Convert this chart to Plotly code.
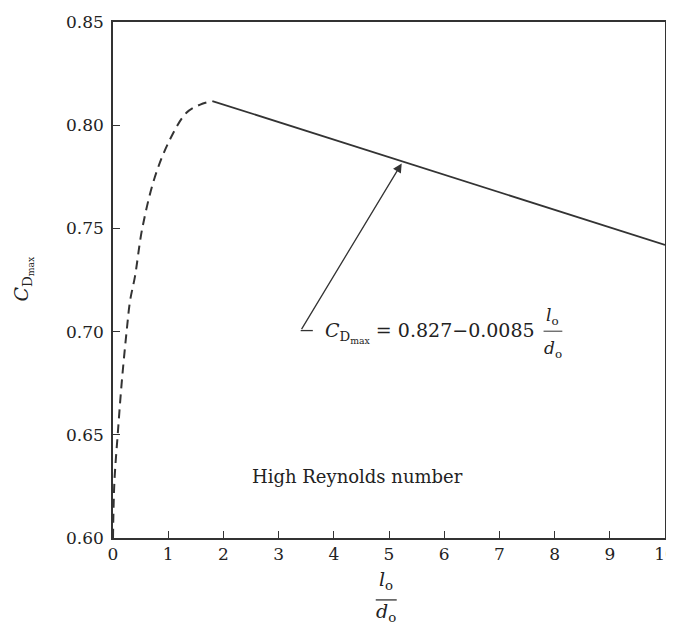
import plotly.graph_objects as go

# Dashed (low l/d) portion
dash_x = [0.0, 0.025, 0.085, 0.157, 0.25, 0.31, 0.40, 0.53, 0.76, 1.03, 1.33, 1.58, 1.80]
dash_y = [0.600, 0.627, 0.650, 0.675, 0.701, 0.715, 0.727, 0.750, 0.775, 0.793, 0.806, 0.810, 0.8117]

# Solid linear portion
solid_x = [1.80, 10.0]
solid_y = [0.8117, 0.742]

x_ticks = [0, 1, 2, 3, 4, 5, 6, 7, 8, 9, 10]
y_ticks = [0.60, 0.65, 0.70, 0.75, 0.80, 0.85]
y_tick_labels = ["0.60", "0.65", "0.70", "0.75", "0.80", "0.85"]

# Annotation anchor values
arrow_tail = (3.40, 0.7005)
arrow_head = (5.23, 0.7815)
label_text = "High Reynolds number"
label_pos = (4.43, 0.630)

FONT = "DejaVu Serif"
INK = "#333333"
TXT = "#222222"

fig = go.Figure()
fig.add_trace(go.Scatter(x=dash_x, y=dash_y, mode="lines",
                         line=dict(color=INK, width=2, dash="9px,6px"),
                         line_shape="spline", showlegend=False, hoverinfo="skip"))
fig.add_trace(go.Scatter(x=solid_x, y=solid_y, mode="lines",
                         line=dict(color=INK, width=1.8),
                         showlegend=False, hoverinfo="skip"))

fig.update_layout(
    width=674, height=626,
    margin=dict(l=105, r=17, t=14, b=96),
    paper_bgcolor="white", plot_bgcolor="white",
    font=dict(family=FONT, size=17, color=TXT),
    xaxis=dict(range=[0, 10], tickvals=x_ticks, ticks="inside", ticklen=7,
               tickcolor=INK, showline=True, linecolor=INK, linewidth=1.6,
               mirror=True, showgrid=False, zeroline=False, automargin=False,
               tickfont=dict(family=FONT, size=17, color=TXT)),
    yaxis=dict(range=[0.60, 0.85], tickvals=y_ticks, ticktext=y_tick_labels,
               ticks="inside", ticklen=7, tickcolor=INK, showline=True,
               linecolor=INK, linewidth=1.6, mirror=True, showgrid=False,
               zeroline=False, automargin=False, ticklabelstandoff=4,
               tickfont=dict(family=FONT, size=17, color=TXT)),
)

# y-axis title
fig.add_annotation(x=-0.19, y=0.502, xref="paper", yref="paper", textangle=-90,
                   text="<i>C</i><sub>D<sub>max</sub></sub>", showarrow=False,
                   font=dict(family=FONT, size=19, color=TXT))

# Arrow from formula label to line
fig.add_annotation(x=arrow_head[0], y=arrow_head[1], ax=arrow_tail[0], ay=arrow_tail[1],
                   xref="x", yref="y", axref="x", ayref="y", text="",
                   showarrow=True, arrowhead=2, arrowsize=1.4, arrowwidth=1.3,
                   arrowcolor=INK)
fig.add_shape(type="line", x0=arrow_tail[0], y0=arrow_tail[1],
              x1=arrow_tail[0] + 0.22, y1=arrow_tail[1],
              line=dict(color=INK, width=1.3))

# Formula text
fig.add_annotation(x=3.80, y=0.6995, xref="x", yref="y", xanchor="left", yanchor="middle",
                   text="<i>C</i><sub>D<sub>max</sub></sub> = 0.827\u22120.0085",
                   showarrow=False, font=dict(family=FONT, size=19, color=TXT))
fig.add_annotation(x=7.97, y=0.7075, xref="x", yref="y", text="<i>l</i><sub>o</sub>",
                   showarrow=False, font=dict(family=FONT, size=17, color=TXT))
fig.add_annotation(x=7.97, y=0.6915, xref="x", yref="y", text="<i>d</i><sub>o</sub>",
                   showarrow=False, font=dict(family=FONT, size=17, color=TXT))
fig.add_shape(type="line", x0=7.80, x1=8.14, y0=0.7002, y1=0.7002,
              line=dict(color=INK, width=1))

# Regime label
fig.add_annotation(x=label_pos[0], y=label_pos[1], xref="x", yref="y",
                   text=label_text, showarrow=False,
                   font=dict(family=FONT, size=18, color=TXT))

# x-axis title as a fraction l_o / d_o
fig.add_annotation(x=0.495, y=-0.110, xref="paper", yref="paper",
                   text="<i>l</i><sub>o</sub>", showarrow=False,
                   font=dict(family=FONT, size=19, color=TXT))
fig.add_annotation(x=0.495, y=-0.172, xref="paper", yref="paper",
                   text="<i>d</i><sub>o</sub>", showarrow=False,
                   font=dict(family=FONT, size=19, color=TXT))
fig.add_shape(type="line", xref="paper", yref="paper", x0=0.476, x1=0.514,
              y0=-0.120, y1=-0.120, line=dict(color=INK, width=1.3))

fig.write_html("out.html")
